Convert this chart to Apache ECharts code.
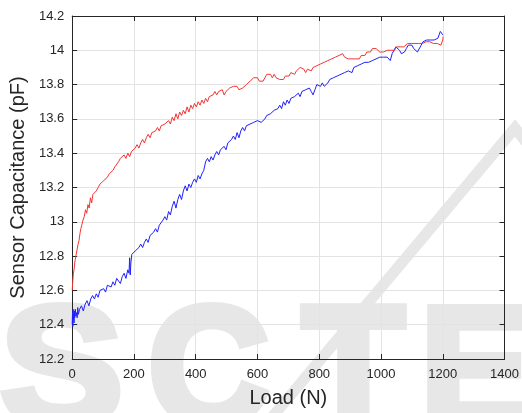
<!DOCTYPE html>
<html>
<head>
<meta charset="utf-8">
<script src="https://cdn.jsdelivr.net/npm/echarts@6/dist/echarts.min.js"></script>
<style>
  html, body { margin: 0; padding: 0; background: #fff; }
  #chart { width: 522px; height: 413px; }
</style>
</head>
<body>
<div id="chart"></div>
<script>
// Axis ranges and tick labels
const loadTicks = [0, 200, 400, 600, 800, 1000, 1200, 1400];
const capTicks = [12.2, 12.4, 12.6, 12.8, 13, 13.2, 13.4, 13.6, 13.8, 14, 14.2];

// Loading branch: [load (N), capacitance (pF)]
const loadingCurve = [
  [0,12.40],[1,12.47],[2,12.39],[3,12.49],[4,12.43],[5,12.46],[6,12.41],[7,12.48],[8,12.44],[10,12.49],
  [12,12.45],[14,12.47],[16,12.44],[18,12.50],[20,12.46],[24,12.49],[30,12.51],[36,12.48],[42,12.52],[48,12.54],
  [54,12.51],[60,12.55],[66,12.57],[72,12.55],[78,12.58],[84,12.56],[90,12.60],[96,12.59],[102,12.61],[108,12.59],
  [114,12.63],[120,12.64],[126,12.62],[132,12.65],[138,12.63],[144,12.67],[150,12.66],[156,12.64],[162,12.68],[168,12.70],
  [174,12.67],[180,12.72],[184,12.70],[186,12.79],[188,12.69],[190,12.76],[193,12.81],[198,12.80],[204,12.83],[210,12.82],
  [216,12.85],[222,12.87],[228,12.85],[234,12.88],[240,12.90],[246,12.88],[252,12.92],[258,12.91],[264,12.94],[270,12.96],
  [276,12.94],[282,12.98],[288,12.97],[294,13.01],[300,13.03],[306,13.01],[312,13.06],[318,13.04],[324,13.09],[330,13.12],
  [336,13.08],[342,13.13],[348,13.16],[354,13.13],[360,13.18],[366,13.21],[372,13.18],[378,13.22],[384,13.20],[390,13.23],
  [396,13.25],[402,13.23],[408,13.27],[414,13.25],[420,13.28],[426,13.30],[432,13.35],[438,13.37],[444,13.35],[450,13.38],
  [456,13.36],[462,13.39],[468,13.41],[474,13.39],[480,13.42],[486,13.41],[492,13.44],[498,13.42],[504,13.46],[510,13.45],
  [516,13.48],[522,13.50],[528,13.48],[534,13.52],[540,13.49],[546,13.53],[552,13.55],[558,13.53],[564,13.56],[570,13.55],
  [576,13.57],[582,13.56],[588,13.58],[594,13.57],[600,13.59],[606,13.60],[612,13.58],[618,13.57],[624,13.60],[630,13.62],
  [636,13.61],[642,13.63],[648,13.62],[654,13.65],[660,13.64],[666,13.66],[672,13.68],[678,13.66],[684,13.70],[690,13.68],
  [696,13.71],[702,13.69],[708,13.72],[714,13.71],[720,13.73],[726,13.72],[732,13.75],[738,13.73],[744,13.76],[750,13.75],
  [756,13.77],[762,13.76],[768,13.78],[774,13.76],[780,13.74],[786,13.77],[792,13.80],[798,13.81],[804,13.79],[810,13.81],
  [816,13.79],[822,13.78],[828,13.81],[834,13.83],[840,13.82],[846,13.84],[852,13.83],[858,13.85],[864,13.84],[870,13.86],
  [876,13.85],[882,13.87],[888,13.86],[894,13.88],[900,13.89],[906,13.87],[912,13.90],[918,13.89],[924,13.91],[930,13.90],
  [936,13.92],[942,13.91],[948,13.93],[954,13.92],[960,13.93],[966,13.92],[972,13.94],[978,13.93],[984,13.95],[990,13.94],
  [996,13.96],[1002,13.95],[1008,13.96],[1014,13.97],[1020,13.96],[1026,13.95],[1030,13.94],[1036,13.98],[1042,14.00],[1048,14.02],
  [1054,14.03],[1060,14.00],[1066,13.98],[1071,13.97],[1076,13.99],[1082,14.01],[1088,14.03],[1094,14.02],[1100,14.03],[1106,14.01],
  [1112,14.00],[1118,13.99],[1124,14.00],[1130,14.03],[1136,14.05],[1142,14.04],[1148,14.06],[1154,14.05],[1160,14.06],[1166,14.05],
  [1172,14.06],[1178,14.06],[1184,14.07],[1188,14.08],[1192,14.11],[1196,14.10],[1200,14.09]
];

// Unloading branch: [load (N), capacitance (pF)]
const unloadingCurve = [
  [0,12.60],[2,12.66],[4,12.70],[6,12.72],[8,12.76],[10,12.78],[13,12.81],[16,12.84],[19,12.87],[22,12.89],
  [25,12.93],[28,12.96],[31,12.98],[35,13.01],[39,13.03],[43,13.07],[47,13.05],[51,13.10],[55,13.08],[59,13.14],
  [63,13.11],[67,13.16],[72,13.15],[78,13.18],[84,13.20],[90,13.22],[96,13.21],[102,13.24],[108,13.23],[114,13.26],
  [120,13.28],[126,13.27],[132,13.30],[138,13.32],[144,13.31],[150,13.35],[156,13.37],[162,13.36],[168,13.39],[174,13.37],
  [180,13.40],[186,13.38],[192,13.41],[198,13.40],[204,13.43],[210,13.45],[216,13.43],[222,13.46],[228,13.48],[234,13.46],
  [240,13.49],[246,13.51],[252,13.49],[258,13.52],[264,13.51],[270,13.53],[276,13.55],[282,13.53],[288,13.56],[294,13.55],
  [300,13.57],[306,13.56],[312,13.59],[318,13.57],[324,13.61],[330,13.59],[336,13.63],[342,13.60],[348,13.64],[354,13.62],
  [360,13.65],[366,13.63],[372,13.67],[378,13.64],[384,13.68],[390,13.66],[396,13.69],[402,13.67],[408,13.70],[414,13.68],
  [420,13.71],[426,13.69],[432,13.72],[438,13.70],[444,13.73],[450,13.72],[456,13.74],[462,13.76],[468,13.74],[474,13.76],
  [480,13.75],[486,13.77],[492,13.74],[498,13.76],[504,13.77],[510,13.78],[516,13.77],[522,13.79],[528,13.80],[534,13.79],
  [540,13.77],[546,13.76],[552,13.78],[558,13.77],[564,13.80],[570,13.79],[576,13.82],[582,13.81],[588,13.84],[594,13.85],
  [600,13.84],[606,13.82],[612,13.81],[618,13.82],[624,13.84],[630,13.86],[636,13.87],[642,13.86],[648,13.84],[654,13.86],
  [660,13.84],[666,13.84],[672,13.83],[678,13.84],[684,13.83],[690,13.85],[696,13.86],[702,13.85],[708,13.87],[714,13.88],
  [720,13.86],[726,13.88],[732,13.89],[738,13.90],[744,13.91],[750,13.89],[756,13.87],[762,13.89],[768,13.90],[774,13.88],
  [780,13.90],[786,13.89],[792,13.91],[798,13.90],[804,13.92],[810,13.91],[816,13.93],[822,13.92],[828,13.94],[834,13.93],
  [840,13.95],[846,13.94],[852,13.96],[858,13.95],[864,13.97],[870,13.96],[876,13.98],[882,13.96],[888,13.97],[894,13.95],
  [900,13.96],[906,13.95],[912,13.94],[918,13.95],[924,13.94],[930,13.95],[936,13.97],[942,13.98],[948,13.97],[954,13.99],
  [960,14.00],[966,13.99],[972,14.01],[978,14.02],[984,14.01],[990,14.00],[996,13.99],[1002,13.98],[1008,13.99],[1014,13.98],
  [1020,14.00],[1026,14.01],[1032,14.00],[1038,14.01],[1044,14.00],[1050,14.02],[1056,14.01],[1062,14.02],[1068,14.03],[1074,14.02],
  [1080,14.03],[1086,14.04],[1092,14.03],[1098,14.04],[1104,14.05],[1110,14.04],[1116,14.03],[1122,14.04],[1128,14.05],[1134,14.04],
  [1140,14.04],[1146,14.05],[1152,14.04],[1158,14.05],[1164,14.04],[1170,14.04],[1176,14.05],[1182,14.04],[1188,14.04],[1194,14.03],
  [1198,14.04],[1200,14.06],[1201,14.08]
];

const axisColor = '#262626';
const gridColor = '#e3e3e3';
const fontFamily = '"Liberation Sans", Arial, Helvetica, sans-serif';

const chart = echarts.init(document.getElementById('chart'), null, { renderer: 'canvas' });

function boxAxis(base) {
  return Object.assign({
    axisLine: { show: true, onZero: false, lineStyle: { color: axisColor, width: 1 } },
    axisTick: { show: true, inside: true, length: 5, lineStyle: { color: axisColor } },
    splitLine: { show: false },
    axisLabel: { show: false }
  }, base);
}

// Large pale lettering behind the figure (x = left edge of each glyph box)
const stampColor = '#e7e7e7';
const stampStyle = {
  fill: stampColor, stroke: stampColor, lineWidth: 8,
  fontFamily: fontFamily, fontWeight: 'bold', fontSize: 168,
  align: 'left', verticalAlign: 'top'
};
const stampLetters = [['S', 0, 1.1], ['C', 148, 1.0], ['T', 302, 1.0], ['E', 420, 1.0]];

chart.setOption({
  animation: false,
  backgroundColor: '#ffffff',
  grid: { left: 70, right: 14, top: 16, bottom: 54, containLabel: false },
  xAxis: [
    {
      type: 'value', min: loadTicks[0], max: loadTicks[loadTicks.length - 1], interval: 200,
      position: 'bottom',
      name: 'Load (N)', nameLocation: 'middle', nameGap: 29,
      nameTextStyle: { color: axisColor, fontSize: 20, fontFamily: fontFamily },
      axisLine: { show: true, onZero: false, lineStyle: { color: axisColor, width: 1 } },
      axisTick: { show: true, inside: true, length: 5, lineStyle: { color: axisColor } },
      splitLine: { show: true, lineStyle: { color: gridColor, width: 1 } },
      axisLabel: { color: axisColor, fontSize: 13, fontFamily: fontFamily, margin: 9, formatter: v => String(v) }
    },
    boxAxis({ type: 'value', min: loadTicks[0], max: loadTicks[loadTicks.length - 1], interval: 200, position: 'top' })
  ],
  yAxis: [
    {
      type: 'value', min: capTicks[0], max: capTicks[capTicks.length - 1], interval: 0.2,
      position: 'left',
      name: 'Sensor Capacitance (pF)', nameLocation: 'middle', nameGap: 30,
      nameTextStyle: { color: axisColor, fontSize: 20, fontFamily: fontFamily },
      axisLine: { show: true, onZero: false, lineStyle: { color: axisColor, width: 1 } },
      axisTick: { show: true, inside: true, length: 5, lineStyle: { color: axisColor } },
      splitLine: { show: true, lineStyle: { color: gridColor, width: 1 } },
      axisLabel: {
        color: axisColor, fontSize: 13, fontFamily: fontFamily, margin: 8,
        formatter: v => String(+v.toFixed(1))
      }
    },
    boxAxis({ type: 'value', min: capTicks[0], max: capTicks[capTicks.length - 1], interval: 0.2, position: 'right' })
  ],
  series: [
    {
      name: 'Loading', type: 'line', data: loadingCurve, showSymbol: false, symbol: 'none',
      lineStyle: { color: '#1f1fff', width: 1 }, z: 3
    },
    {
      name: 'Unloading', type: 'line', data: unloadingCurve, showSymbol: false, symbol: 'none',
      lineStyle: { color: '#f23535', width: 1 }, z: 4
    }
  ],
  graphic: [
    ...stampLetters.map(([ch, x, sx]) => ({
      type: 'text', x: x, y: 294, scaleX: sx, z: -10, silent: true,
      style: Object.assign({ text: ch }, stampStyle)
    })),
    {
      type: 'polyline', z: -10, silent: true,
      shape: { points: [[268, 422], [515, 128], [526, 142]] },
      style: { stroke: stampColor, lineWidth: 11, fill: null, lineJoin: 'miter' }
    }
  ]
});
</script>
</body>
</html>
